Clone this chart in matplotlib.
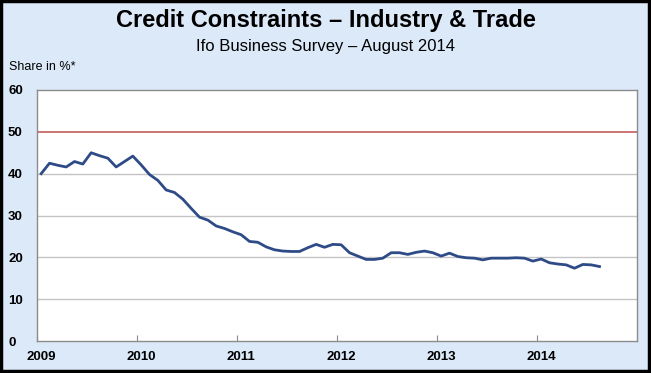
import matplotlib
matplotlib.use("Agg")
import matplotlib.pyplot as plt
import matplotlib.transforms as mtransforms
from matplotlib.patches import Rectangle
import numpy as np

# monthly share of firms reporting credit constraints, Jan 2009 .. Aug 2014
share_2009 = [40.0, 42.5, 42.0, 41.6, 42.9, 42.3, 45.0, 44.3, 43.7, 41.6, 42.9, 44.2]
share_2010 = [42.1, 39.8, 38.4, 36.1, 35.5, 33.9, 31.7, 29.6, 28.9, 27.5, 26.9, 26.1]
share_2011 = [25.4, 23.8, 23.6, 22.5, 21.8, 21.5, 21.4, 21.4, 22.3, 23.1, 22.4, 23.1]
share_2012 = [23.0, 21.1, 20.3, 19.5, 19.5, 19.8, 21.1, 21.1, 20.7, 21.2, 21.5, 21.1]
share_2013 = [20.3, 21.0, 20.2, 19.9, 19.8, 19.4, 19.8, 19.8, 19.8, 19.9, 19.8, 19.1]
share_2014 = [19.6, 18.7, 18.4, 18.2, 17.4, 18.3, 18.2, 17.8]

share = share_2009 + share_2010 + share_2011 + share_2012 + share_2013 + share_2014
months = 2009 + (np.arange(len(share)) + 0.5) / 12.0

reference_level = 50
year_ticks = [2009, 2010, 2011, 2012, 2013, 2014]
y_ticks = [0, 10, 20, 30, 40, 50, 60]

BG = "#dce9f8"
LINE = "#2f4b87"
RED = "#c0504d"
GRID = "#c4c4c4"

plt.rcParams["font.family"] = ["Liberation Sans", "DejaVu Sans"]

fig = plt.figure(figsize=(6.51, 3.73), dpi=100)
fig.patch.set_facecolor(BG)

ax = fig.add_axes([37 / 651, 32 / 373, 600 / 651, 251 / 373])
ax.set_facecolor("white")

for v in [10, 20, 30, 40]:
    ax.axhline(v, color=GRID, linewidth=1.0, zorder=1)
ax.axhline(reference_level, color=RED, linewidth=1.1, zorder=2)

ax.plot(months, share, color=LINE, linewidth=2.0, solid_joinstyle="round", zorder=3)

ax.set_xlim(2009, 2015)
ax.set_ylim(0, 60)
ax.set_yticks(y_ticks)
ax.set_yticklabels([str(v) for v in y_ticks], fontsize=9.5, fontweight="bold", ha="left")
# pad is in points: 29 px from the axis to the label start
ax.tick_params(axis="y", length=0, pad=29 * 0.72)
ax.set_xticks(year_ticks)
ax.set_xticklabels([str(y) for y in year_ticks], fontsize=9.5, fontweight="bold")
ax.tick_params(axis="x", direction="in", length=4, color="#8c8c8c", pad=7)
for spine in ax.spines.values():
    spine.set_color("#8c8c8c")
    spine.set_linewidth(1.0)

# year labels sit a little right of their ticks in the original
offset = mtransforms.ScaledTranslation(4 / 100, 0, fig.dpi_scale_trans)
for lbl in ax.get_xticklabels():
    lbl.set_transform(lbl.get_transform() + offset)

fig.text(0.5, 1 - 21 / 373, "Credit Constraints \u2013 Industry & Trade",
         ha="center", va="center", fontsize=17, fontweight="bold")
fig.text(0.5, 1 - 46 / 373, "Ifo Business Survey \u2013 August 2014",
         ha="center", va="center", fontsize=12)
fig.text(9 / 651, 1 - 67 / 373, "Share in %*", ha="left", va="center", fontsize=9)

# black frame around the whole picture
fig.patches.append(Rectangle((0.002, 0.004), 0.996, 0.992, transform=fig.transFigure,
                             fill=False, edgecolor="black", linewidth=3.2))

fig.savefig("out.png", dpi=100, facecolor=fig.get_facecolor())
